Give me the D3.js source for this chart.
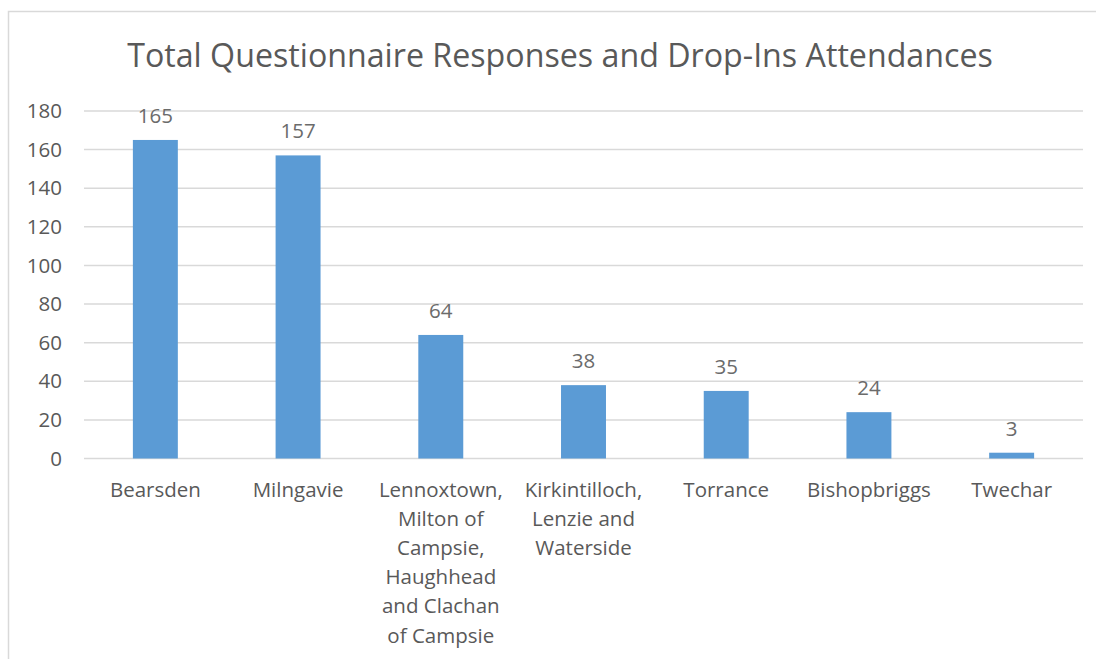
<!DOCTYPE html>
<html>
<head>
<meta charset="utf-8">
<script src="https://cdn.jsdelivr.net/npm/d3@7"></script>
<style>
  body { margin: 0; background: #fff; }
  text { font-family: "Open Sans", sans-serif; }
</style>
</head>
<body>
<div id="chart"></div>
<script>
// chart data
var categories = ["Bearsden", "Milngavie", "Lennoxtown", "Kirkintilloch", "Torrance", "Bishopbriggs", "Twechar"];
var labelLines = [
  ["Bearsden"],
  ["Milngavie"],
  ["Lennoxtown,", "Milton of", "Campsie,", "Haughhead", "and Clachan", "of Campsie"],
  ["Kirkintilloch,", "Lenzie and", "Waterside"],
  ["Torrance"],
  ["Bishopbriggs"],
  ["Twechar"]
];
var values = [165, 157, 64, 38, 35, 24, 3];
var yTicks = [0, 20, 40, 60, 80, 100, 120, 140, 160, 180];
var title = "Total Questionnaire Responses and Drop-Ins Attendances";

var svgWidth = 1096;
var svgHeight = 659;

var margin = { top: 111, right: 13, bottom: 200, left: 84 };
var chartWidth = 1083 - margin.left;
var chartHeight = 458.5 - margin.top;

var svg = d3.select("#chart")
  .append("svg")
  .attr("width", svgWidth)
  .attr("height", svgHeight);

// outer border (bottom runs off the picture)
svg.append("rect")
  .attr("x", 8.5)
  .attr("y", 11.5)
  .attr("width", 1100)
  .attr("height", 700)
  .attr("fill", "none")
  .attr("stroke", "#d9d9d9")
  .attr("stroke-width", 1.5);

svg.append("text")
  .attr("x", 560)
  .attr("y", 67)
  .attr("text-anchor", "middle")
  .attr("font-size", "32.2px")
  .attr("fill", "#595959")
  .text(title);

var chartGroup = svg.append("g")
  .attr("transform", `translate(${margin.left}, ${margin.top})`);

var xScale = d3.scaleBand()
  .domain(categories)
  .range([0, chartWidth])
  .paddingInner(0.685)
  .paddingOuter(0.3425);

var yScale = d3.scaleLinear()
  .domain([0, 180])
  .range([chartHeight, 0]);

// gridlines
chartGroup.selectAll(".grid")
  .data(yTicks)
  .enter()
  .append("line")
  .attr("x1", 0)
  .attr("x2", chartWidth)
  .attr("y1", d => yScale(d))
  .attr("y2", d => yScale(d))
  .attr("stroke", "#d9d9d9")
  .attr("stroke-width", 1.5);

// y axis labels
var leftAxis = d3.axisLeft(yScale).tickValues(yTicks).tickSize(0).tickPadding(22);
var yAxis = chartGroup.append("g").call(leftAxis);
yAxis.select(".domain").remove();
yAxis.selectAll("text")
  .attr("font-family", "Open Sans, sans-serif")
  .attr("font-size", "20.5px")
  .attr("fill", "#595959");

// bars
chartGroup.selectAll(".bar")
  .data(values)
  .enter()
  .append("rect")
  .attr("x", (d, i) => xScale(categories[i]))
  .attr("y", d => yScale(d))
  .attr("width", xScale.bandwidth())
  .attr("height", d => chartHeight - yScale(d))
  .attr("fill", "#5b9bd5");

// value labels
chartGroup.selectAll(".val")
  .data(values)
  .enter()
  .append("text")
  .attr("x", (d, i) => xScale(categories[i]) + xScale.bandwidth() / 2)
  .attr("y", d => yScale(d) - 17)
  .attr("text-anchor", "middle")
  .attr("font-size", "20.5px")
  .attr("fill", "#6b6b6b")
  .text(d => d);

// category labels
var catGroups = chartGroup.selectAll(".cat")
  .data(categories)
  .enter()
  .append("text")
  .attr("text-anchor", "middle")
  .attr("font-size", "20.5px")
  .attr("fill", "#595959")
  .attr("transform", d => `translate(${xScale(d) + xScale.bandwidth() / 2}, ${chartHeight + 38})`);

catGroups.selectAll("tspan")
  .data((d, i) => labelLines[i])
  .enter()
  .append("tspan")
  .attr("x", 0)
  .attr("y", (d, i) => i * 29.2)
  .text(d => d);
</script>
</body>
</html>
